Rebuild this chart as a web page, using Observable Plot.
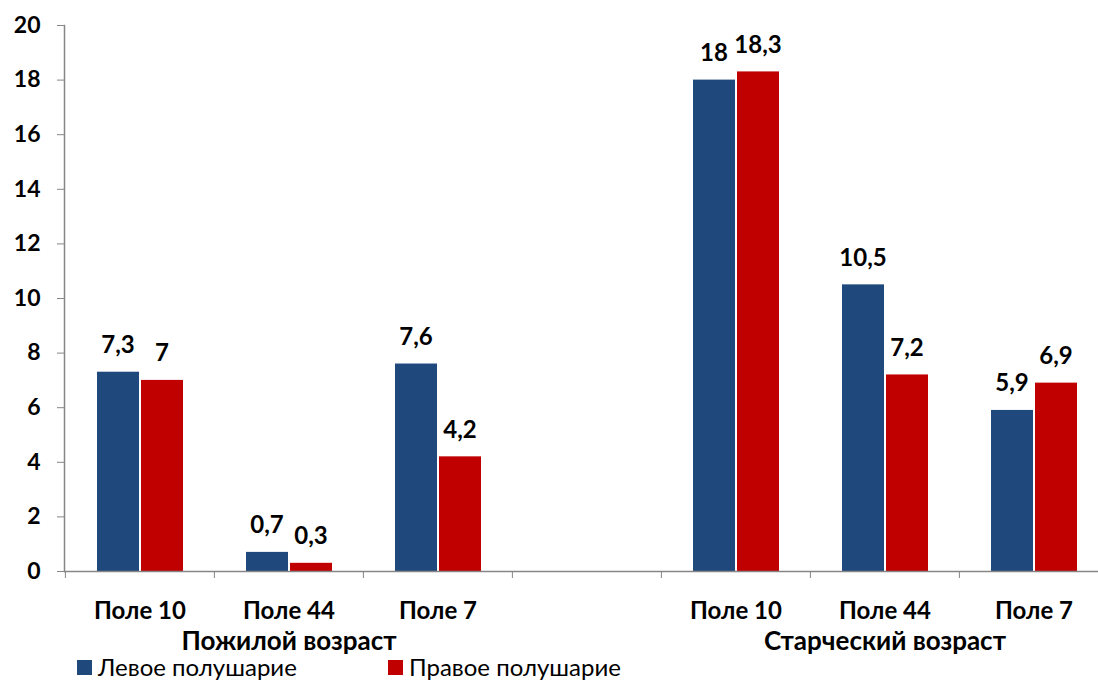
<!DOCTYPE html>
<html>
<head>
<meta charset="utf-8">
<script src="https://cdn.jsdelivr.net/npm/d3@7"></script>
<script src="https://cdn.jsdelivr.net/npm/@observablehq/plot@0.6"></script>
<style>
  body { margin: 0; background: #fff; font-family: Lato, "Open Sans", sans-serif; overflow: hidden; }
  #legend { display: flex; height: 28px; align-items: center; padding-left: 77px; padding-top: 3px; font-size: 24px; line-height: 26px; color: #000; }
  .item { display: flex; align-items: center; }
  .item:first-child { width: 311px; }
  .sw { width: 15px; height: 15px; margin-right: 6px; }
</style>
</head>
<body>
<div id="chart"></div>
<div id="legend"></div>
<script>
const slots = ["s1", "s2", "s3", "s4", "s5", "s6", "s7"];
const slotLabels = ["Поле 10", "Поле 44", "Поле 7", "", "Поле 10", "Поле 44", "Поле 7"];
const barSlots = ["s1", "s2", "s3", "s5", "s6", "s7"];
const leftValues = [7.3, 0.7, 7.6, 18, 10.5, 5.9];
const rightValues = [7, 0.3, 4.2, 18.3, 7.2, 6.9];
const groupNames = ["Пожилой возраст", "Старческий возраст"];
const groupSlots = ["s2", "s6"];
const yTicks = [0, 2, 4, 6, 8, 10, 12, 14, 16, 18, 20];
const seriesNames = ["Левое полушарие", "Правое полушарие"];
const colors = ["#1F497D", "#C00000"];

const table = barSlots.map((s, i) => ({slot: s, left: leftValues[i], right: rightValues[i]}));
const fmt = v => String(v).replace(".", ",");
const axisColor = "#868686";

const chart = Plot.plot({
  width: 1098,
  height: 650,
  marginTop: 25,
  marginBottom: 79,
  marginLeft: 64,
  marginRight: 0,
  style: {fontFamily: "Lato, 'Open Sans', sans-serif", fontSize: "23px", fontWeight: "bold", color: "#000", background: "#fff", overflow: "visible"},
  x: {type: "band", domain: slots, range: [64, 1109], padding: 0},
  y: {domain: [0, 20], ticks: yTicks},
  marks: [
    Plot.barY(table, {x: "slot", y: "left", fill: colors[0], insetLeft: 32, insetRight: 75}),
    Plot.barY(table, {x: "slot", y: "right", fill: colors[1], insetLeft: 76, insetRight: 31}),
    Plot.text(table, {x: "slot", y: "left", text: d => fmt(d.left), dx: -22, dy: -19, lineAnchor: "bottom", fill: "#000", fontSize: 24}),
    Plot.text(table, {x: "slot", y: "right", text: d => fmt(d.right), dx: 22, dy: -19, lineAnchor: "bottom", fill: "#000", fontSize: 24}),
    Plot.ruleY([0], {stroke: axisColor, strokeWidth: 1.5}),
    Plot.frame({anchor: "left", stroke: axisColor, strokeWidth: 1.5}),
    Plot.axisY({ticks: yTicks, tickSize: 7, tickPadding: 17, stroke: axisColor, label: null, fill: "#000"}),
    Plot.axisX({ticks: slots, tickSize: 7, tickFormat: () => "", dx: -74.6, stroke: axisColor, label: null}),
    Plot.axisX({tickSize: 0, tickPadding: 30, tickFormat: (d, i) => slotLabels[slots.indexOf(d)], label: null, fill: "#000", fontSize: 24}),
    Plot.text(groupNames, {x: (d, i) => groupSlots[i], text: d => d, frameAnchor: "bottom", dy: 78, fill: "#000", fontSize: 26})
  ]
});
document.getElementById("chart").appendChild(chart);

const legend = document.getElementById("legend");
seriesNames.forEach((n, i) => {
  const it = document.createElement("div");
  it.className = "item";
  it.innerHTML = `<span class="sw" style="background:${colors[i]}"></span><span>${n}</span>`;
  legend.appendChild(it);
});
</script>
</body>
</html>
